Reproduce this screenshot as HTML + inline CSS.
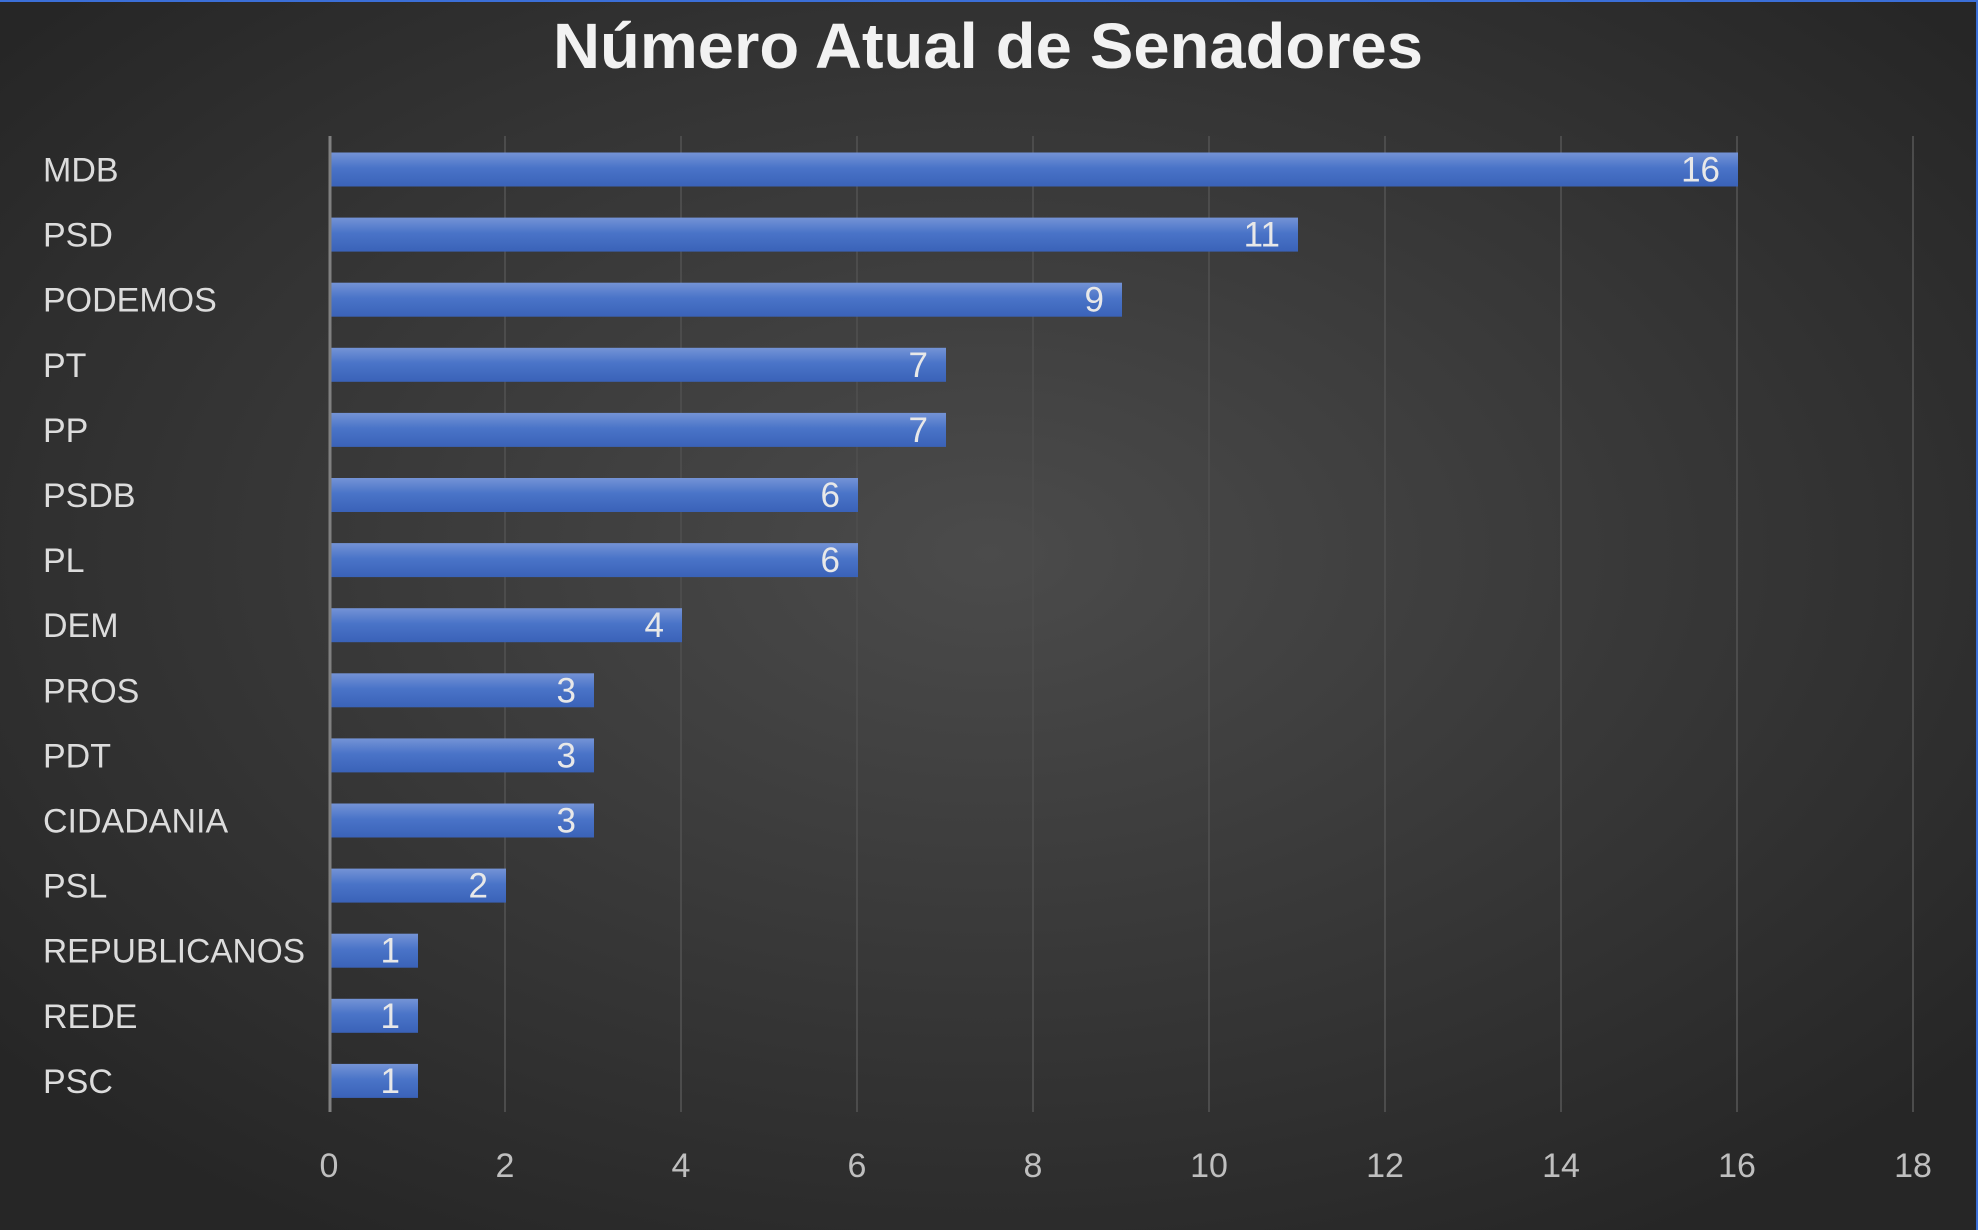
<!DOCTYPE html>
<html><head><meta charset="utf-8"><style>
html,body{margin:0;padding:0;background:#2a2a2a;}
svg{display:block;}
text{font-family:"Liberation Sans",sans-serif;}
</style></head><body>
<svg width="1978" height="1230" viewBox="0 0 1978 1230" xmlns="http://www.w3.org/2000/svg">
<defs>
<radialGradient id="bg" cx="50%" cy="45%" r="65%">
<stop offset="0" stop-color="#4b4b4b"/>
<stop offset="1" stop-color="#262626"/>
</radialGradient>
<linearGradient id="bar" x1="0" y1="0" x2="0" y2="1">
<stop offset="0" stop-color="#7493d6"/>
<stop offset="0.45" stop-color="#4a74c8"/>
<stop offset="1" stop-color="#3a62b8"/>
</linearGradient>
</defs>
<rect width="1978" height="1230" fill="url(#bg)"/>
<rect x="0" y="0" width="1978" height="2" fill="#3b6fd8"/>
<rect x="1976" y="0" width="2" height="1230" fill="#3b6fd8"/>
<text x="988" y="68" text-anchor="middle" font-size="64" font-weight="bold" fill="#f2f2f2" textLength="870" lengthAdjust="spacingAndGlyphs">Número Atual de Senadores</text>
<g stroke="#4c4c4c" stroke-width="2">
<line x1="505" y1="136" x2="505" y2="1112"/>
<line x1="681" y1="136" x2="681" y2="1112"/>
<line x1="857" y1="136" x2="857" y2="1112"/>
<line x1="1033" y1="136" x2="1033" y2="1112"/>
<line x1="1209" y1="136" x2="1209" y2="1112"/>
<line x1="1385" y1="136" x2="1385" y2="1112"/>
<line x1="1561" y1="136" x2="1561" y2="1112"/>
<line x1="1737" y1="136" x2="1737" y2="1112"/>
<line x1="1913" y1="136" x2="1913" y2="1112"/>
</g>
<g id="bars"></g>
<line x1="330" y1="136" x2="330" y2="1112" stroke="#808080" stroke-width="3"/>
<g font-size="34" fill="#bfbfbf" text-anchor="middle">
<text x="329" y="1177">0</text><text x="505" y="1177">2</text><text x="681" y="1177">4</text>
<text x="857" y="1177">6</text><text x="1033" y="1177">8</text><text x="1209" y="1177">10</text>
<text x="1385" y="1177">12</text><text x="1561" y="1177">14</text><text x="1737" y="1177">16</text>
<text x="1913" y="1177">18</text>
</g>
<script>
var d=[["MDB",16],["PSD",11],["PODEMOS",9],["PT",7],["PP",7],["PSDB",6],["PL",6],["DEM",4],["PROS",3],["PDT",3],["CIDADANIA",3],["PSL",2],["REPUBLICANOS",1],["REDE",1],["PSC",1]];
var ns="http://www.w3.org/2000/svg",svg=document.querySelector("svg"),g=document.getElementById("bars");
d.forEach(function(r,i){
 var cy=169.5+i*65.1;
 var b=document.createElementNS(ns,"rect");
 b.setAttribute("x",330);b.setAttribute("y",cy-17);b.setAttribute("width",r[1]*88);b.setAttribute("height",34);b.setAttribute("fill","url(#bar)");g.appendChild(b);
 var v=document.createElementNS(ns,"text");
 v.setAttribute("x",330+r[1]*88-18);v.setAttribute("y",cy+12);v.setAttribute("text-anchor","end");v.setAttribute("font-size","35");v.setAttribute("fill","#e8e8e8");v.textContent=r[1];svg.appendChild(v);
 var l=document.createElementNS(ns,"text");
 l.setAttribute("x",43);l.setAttribute("y",cy+12);l.setAttribute("font-size","34");l.setAttribute("fill","#dcdcdc");l.textContent=r[0];
 if(r[0]=="REPUBLICANOS"){l.setAttribute("textLength","262");l.setAttribute("lengthAdjust","spacingAndGlyphs");}
 svg.appendChild(l);
});
</script>
</svg>
</body></html>
